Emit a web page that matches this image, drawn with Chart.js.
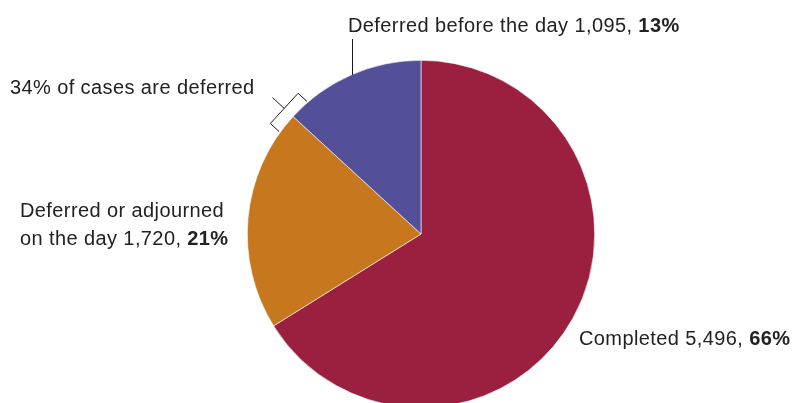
<!DOCTYPE html>
<html>
<head>
<meta charset="utf-8">
<script src="https://cdn.jsdelivr.net/npm/chart.js@4"></script>
<style>
  html, body { margin: 0; padding: 0; background: #fff; overflow: hidden; width: 797px; height: 403px; }
  canvas { display: block; }
</style>
</head>
<body>
<canvas id="pieChart" width="797" height="420"></canvas>
<script>
var categories = ['Completed', 'Deferred or adjourned on the day', 'Deferred before the day'];
var caseCounts = [5496, 1720, 1095];
var casePercents = [66, 21, 13];
var sliceColours = ['#9b2040', '#c7781f', '#534f99'];
var deferredShare = 34;

var fontLight = 'normal 20px "Liberation Sans", Arial, sans-serif';
var fontBold = 'bold 20px "Liberation Sans", Arial, sans-serif';

function fmt(n) {
    return n.toLocaleString('en-GB');
}

// draws "plain text, BOLD%" starting at x
function drawLabel(ctx, x, y, plain, bold) {
    ctx.font = fontLight;
    ctx.fillText(plain, x, y);
    var w = ctx.measureText(plain).width;
    ctx.font = fontBold;
    ctx.fillText(bold, x + w, y);
}

var labelPlugin = {
    id: 'labelPlugin',
    afterDraw: function (chart) {
        var ctx = chart.ctx;
        var arcs = chart.getDatasetMeta(0).data;
        var cx = arcs[0].x, cy = arcs[0].y, r = arcs[0].outerRadius;
        ctx.save();
        ctx.fillStyle = '#222222';
        ctx.textBaseline = 'alphabetic';
        ctx.textAlign = 'left';
        ctx.letterSpacing = '0.4px';

        drawLabel(ctx, 348, 32, categories[2] + ' ' + fmt(caseCounts[2]) + ', ', casePercents[2] + '%');
        ctx.font = fontLight;
        ctx.fillText('Deferred or adjourned', 20, 217);
        drawLabel(ctx, 20, 245, 'on the day ' + fmt(caseCounts[1]) + ', ', casePercents[1] + '%');
        drawLabel(ctx, 579, 345, categories[0] + ' ' + fmt(caseCounts[0]) + ', ', casePercents[0] + '%');
        ctx.font = fontLight;
        ctx.fillText(deferredShare + '% of cases are deferred', 10, 94);

        // leader line for the purple slice
        ctx.strokeStyle = '#1a1a1a';
        ctx.lineWidth = 1;
        ctx.beginPath();
        ctx.moveTo(352.5, 39);
        ctx.lineTo(352.5, 75);
        ctx.stroke();

        // bracket at the orange / purple boundary
        var a = arcs[2].startAngle;
        var ux = Math.cos(a), uy = Math.sin(a);
        var tx = -uy, ty = ux;
        var mr = r + 12;
        var mx = cx + ux * mr, my = cy + uy * mr;
        var half = 20.5, tick = 12;
        ctx.beginPath();
        ctx.moveTo(mx + tx * half - ux * tick, my + ty * half - uy * tick);
        ctx.lineTo(mx + tx * half, my + ty * half);
        ctx.lineTo(mx - tx * half, my - ty * half);
        ctx.lineTo(mx - tx * half - ux * tick, my - ty * half - uy * tick);
        ctx.moveTo(mx, my);
        ctx.lineTo(mx + ux * 16, my + uy * 16);
        ctx.stroke();
        ctx.restore();
    }
};

var ctx = document.getElementById('pieChart').getContext('2d');
var myChart = new Chart(ctx, {
    type: 'pie',
    data: {
        labels: categories,
        datasets: [{
            data: caseCounts,
            backgroundColor: sliceColours,
            borderColor: '#ffffff',
            borderWidth: 0.6
        }]
    },
    options: {
        responsive: false,
        animation: false,
        layout: { padding: { top: 60, bottom: 12, left: 45, right: 0 } },
        plugins: {
            legend: { display: false },
            tooltip: { enabled: false }
        }
    },
    plugins: [labelPlugin]
});
</script>
</body>
</html>
